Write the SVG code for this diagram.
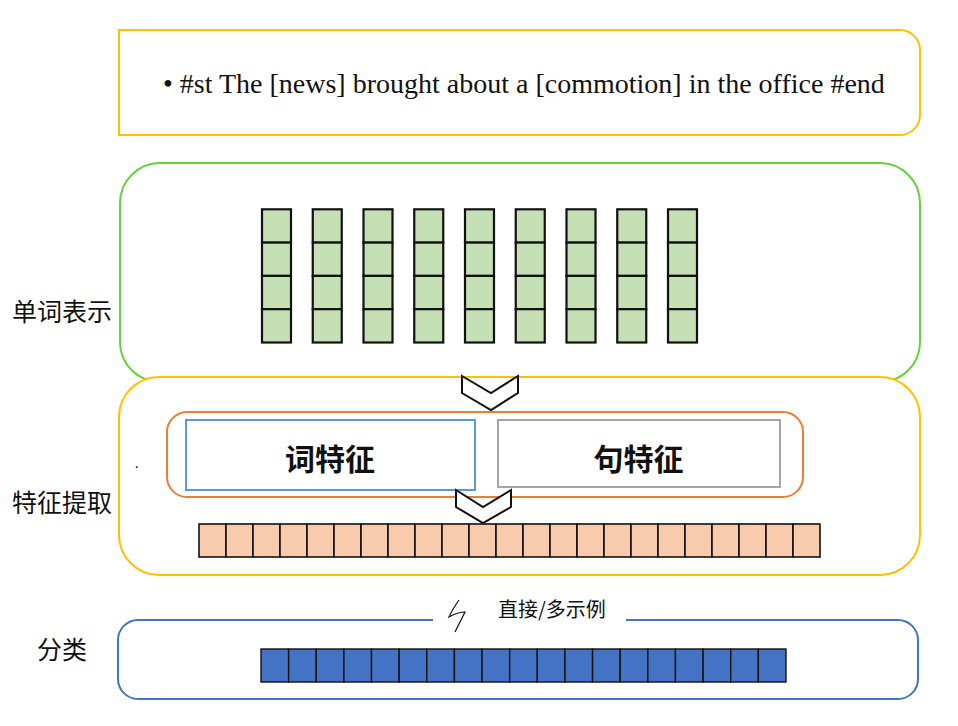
<svg xmlns="http://www.w3.org/2000/svg" width="958" height="726" viewBox="0 0 958 726">
<style>
.g{fill:#C5E0B4;stroke:#111;stroke-width:2.2}
.o{fill:#F8CBAD;stroke:#111;stroke-width:1.6}
.b{fill:#4472C4;stroke:#111;stroke-width:1.4}
.lbl{font-family:"Noto Sans CJK SC","Noto Sans",sans-serif;font-size:25px;fill:#111}
.bold{font-family:"Noto Sans CJK SC","Noto Sans",sans-serif;font-size:30px;font-weight:bold;fill:#111}
.chev{fill:#fff;stroke:#111;stroke-width:2}
</style>
<rect width="958" height="726" fill="#fff"/>
<g id="sentence">
<path d="M119,30 H900 A20,20 0 0 1 920,50 V115 A20,20 0 0 1 900,135 H119 Z" fill="#fff" stroke="#FFC000" stroke-width="2"/>
<text x="163" y="93" font-family="Liberation Serif, serif" font-size="28" fill="#111">• #st The [news] brought about a [commotion] in the office #end</text>
</g>
<g id="word-repr">
<rect x="120" y="163" width="800" height="219" rx="40" fill="#fff" stroke="#66D13C" stroke-width="2"/>
<g id="word-vectors">
<rect class="g" x="262" y="209.3" width="29" height="33.3"/><rect class="g" x="262" y="242.6" width="29" height="33.3"/><rect class="g" x="262" y="275.9" width="29" height="33.3"/><rect class="g" x="262" y="309.2" width="29" height="33.3"/>
<rect class="g" x="312.75" y="209.3" width="29" height="33.3"/><rect class="g" x="312.75" y="242.6" width="29" height="33.3"/><rect class="g" x="312.75" y="275.9" width="29" height="33.3"/><rect class="g" x="312.75" y="309.2" width="29" height="33.3"/>
<rect class="g" x="363.5" y="209.3" width="29" height="33.3"/><rect class="g" x="363.5" y="242.6" width="29" height="33.3"/><rect class="g" x="363.5" y="275.9" width="29" height="33.3"/><rect class="g" x="363.5" y="309.2" width="29" height="33.3"/>
<rect class="g" x="414.25" y="209.3" width="29" height="33.3"/><rect class="g" x="414.25" y="242.6" width="29" height="33.3"/><rect class="g" x="414.25" y="275.9" width="29" height="33.3"/><rect class="g" x="414.25" y="309.2" width="29" height="33.3"/>
<rect class="g" x="465" y="209.3" width="29" height="33.3"/><rect class="g" x="465" y="242.6" width="29" height="33.3"/><rect class="g" x="465" y="275.9" width="29" height="33.3"/><rect class="g" x="465" y="309.2" width="29" height="33.3"/>
<rect class="g" x="515.75" y="209.3" width="29" height="33.3"/><rect class="g" x="515.75" y="242.6" width="29" height="33.3"/><rect class="g" x="515.75" y="275.9" width="29" height="33.3"/><rect class="g" x="515.75" y="309.2" width="29" height="33.3"/>
<rect class="g" x="566.5" y="209.3" width="29" height="33.3"/><rect class="g" x="566.5" y="242.6" width="29" height="33.3"/><rect class="g" x="566.5" y="275.9" width="29" height="33.3"/><rect class="g" x="566.5" y="309.2" width="29" height="33.3"/>
<rect class="g" x="617.25" y="209.3" width="29" height="33.3"/><rect class="g" x="617.25" y="242.6" width="29" height="33.3"/><rect class="g" x="617.25" y="275.9" width="29" height="33.3"/><rect class="g" x="617.25" y="309.2" width="29" height="33.3"/>
<rect class="g" x="668" y="209.3" width="29" height="33.3"/><rect class="g" x="668" y="242.6" width="29" height="33.3"/><rect class="g" x="668" y="275.9" width="29" height="33.3"/><rect class="g" x="668" y="309.2" width="29" height="33.3"/>
</g>
<text class="lbl" x="12" y="321">单词表示</text>
</g>
<g id="feature-extract">
<rect x="119" y="377" width="801" height="198" rx="40" fill="#fff" stroke="#FFC000" stroke-width="2"/>
<rect x="167" y="412" width="636" height="85" rx="20" fill="#fff" stroke="#ED7D31" stroke-width="2"/>
<text x="134" y="472" font-family="Liberation Sans, sans-serif" font-size="16" fill="#111">·</text>
<text class="lbl" x="12" y="512">特征提取</text>
</g>
<g id="word-feature">
<rect x="186" y="420" width="289" height="70" fill="#fff" stroke="#5B9BD5" stroke-width="2"/>
<text class="bold" x="330" y="470" text-anchor="middle">词特征</text>
</g>
<g id="sent-feature">
<rect x="498" y="420" width="282" height="67" fill="#fff" stroke="#A5A5A5" stroke-width="2"/>
<text class="bold" x="638.5" y="470" text-anchor="middle">句特征</text>
</g>
<g id="feature-vector">
<rect class="o" x="199" y="524" width="27" height="33"/><rect class="o" x="226" y="524" width="27" height="33"/><rect class="o" x="253" y="524" width="27" height="33"/><rect class="o" x="280" y="524" width="27" height="33"/><rect class="o" x="307" y="524" width="27" height="33"/><rect class="o" x="334" y="524" width="27" height="33"/><rect class="o" x="361" y="524" width="27" height="33"/><rect class="o" x="388" y="524" width="27" height="33"/><rect class="o" x="415" y="524" width="27" height="33"/><rect class="o" x="442" y="524" width="27" height="33"/><rect class="o" x="469" y="524" width="27" height="33"/><rect class="o" x="496" y="524" width="27" height="33"/><rect class="o" x="523" y="524" width="27" height="33"/><rect class="o" x="550" y="524" width="27" height="33"/><rect class="o" x="577" y="524" width="27" height="33"/><rect class="o" x="604" y="524" width="27" height="33"/><rect class="o" x="631" y="524" width="27" height="33"/><rect class="o" x="658" y="524" width="27" height="33"/><rect class="o" x="685" y="524" width="27" height="33"/><rect class="o" x="712" y="524" width="27" height="33"/><rect class="o" x="739" y="524" width="27" height="33"/><rect class="o" x="766" y="524" width="27" height="33"/><rect class="o" x="793" y="524" width="27" height="33"/>
</g>
<g id="classify">
<path d="M433,620 H138 A20,20 0 0 0 118,640 V679 A20,20 0 0 0 138,699 H898 A20,20 0 0 0 918,679 V640 A20,20 0 0 0 898,620 H626" fill="none" stroke="#4472C4" stroke-width="2"/>
<path d="M459,600 Q452,610 449,617 Q458,612 465,612 Q460,622 455,632" fill="none" stroke="#111" stroke-width="1.2"/>
<text x="498" y="617" font-family="Noto Sans CJK SC, sans-serif" font-size="20" fill="#111">直接/多示例</text>
<g id="class-vector">
<rect class="b" x="261" y="649" width="27.63" height="33"/><rect class="b" x="288.63" y="649" width="27.63" height="33"/><rect class="b" x="316.26" y="649" width="27.63" height="33"/><rect class="b" x="343.89" y="649" width="27.63" height="33"/><rect class="b" x="371.52" y="649" width="27.63" height="33"/><rect class="b" x="399.15" y="649" width="27.63" height="33"/><rect class="b" x="426.78" y="649" width="27.63" height="33"/><rect class="b" x="454.41" y="649" width="27.63" height="33"/><rect class="b" x="482.04" y="649" width="27.63" height="33"/><rect class="b" x="509.67" y="649" width="27.63" height="33"/><rect class="b" x="537.3" y="649" width="27.63" height="33"/><rect class="b" x="564.93" y="649" width="27.63" height="33"/><rect class="b" x="592.56" y="649" width="27.63" height="33"/><rect class="b" x="620.19" y="649" width="27.63" height="33"/><rect class="b" x="647.82" y="649" width="27.63" height="33"/><rect class="b" x="675.45" y="649" width="27.63" height="33"/><rect class="b" x="703.08" y="649" width="27.63" height="33"/><rect class="b" x="730.71" y="649" width="27.63" height="33"/><rect class="b" x="758.34" y="649" width="27.63" height="33"/>
</g>
<text class="lbl" x="37" y="659">分类</text>
</g>
<g id="connectors">
<path class="chev" d="M462,376 L491,393 L518,376 L518,393 L491,410 L462,393 Z"/>
<path class="chev" d="M456,490 L483,507 L511,490 L511,507 L483,523 L456,507 Z"/>
</g>
</svg>
